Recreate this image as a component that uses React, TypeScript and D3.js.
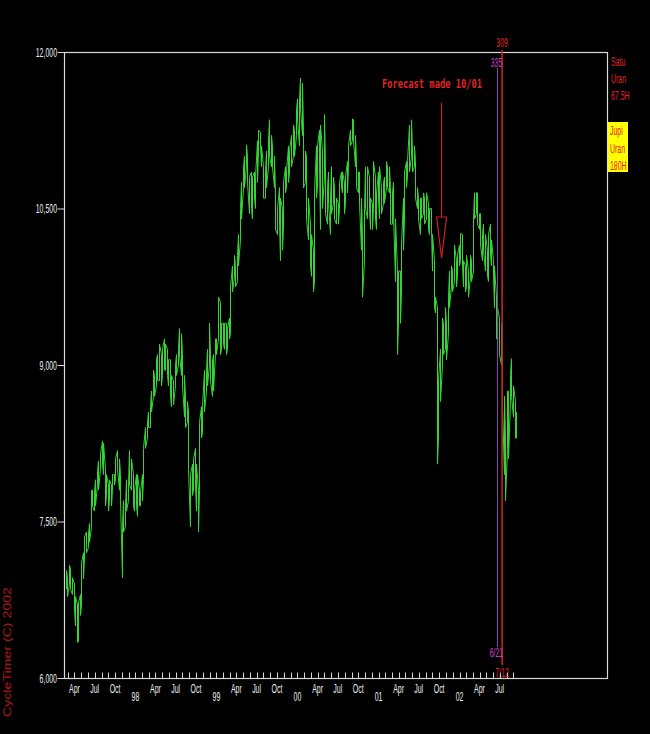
import React from "react";
import * as d3 from "d3";

// Weekly bars (Friday week-ends) starting 21 Feb 1997
const START_WEEK = new Date(1997, 1, 21);

const weekHigh = [
  // 1997
  7030, 6960, 7080, 7050, 6960, 6900, 6780, 6700, 6720, 6800, 7100, 7200, 7350, 7400, 7380,
  7480, 7800, 7800, 7780, 7900, 7980, 8080, 8150, 8270, 8250, 8000, 7950, 7850, 7900, 7850,
  7950, 7950, 8100, 8180, 8100, 7950, 7450, 7700, 7650, 7900, 7850, 8180, 8100, 7950, 7800,
  // 1998
  7950, 7950, 7800, 7780, 7950, 8200, 8400, 8450, 8550, 8600, 8750, 8950, 8900, 9050, 9100,
  9200, 9100, 9150, 9250, 9200, 9150, 9050, 9050, 8900, 8850, 9000, 9100, 9150, 9350, 9300,
  9100, 8900, 8700, 8650, 8550, 7950, 8050, 8100, 8200, 8050, 7800, 8450, 8600, 8600, 8950,
  8950, 9150, 9400, 9100, 9050, 9100, 9250,
  // 1999
  9250, 9650, 9600, 9400, 9400, 9400, 9400, 9350, 9450, 9750, 9950, 10050, 9950, 10050, 10250,
  10500, 10750, 10900, 11000, 11110, 11000, 10800, 10850, 10800, 10850, 10800, 11150, 11250, 11230, 11100,
  10900, 10850, 11050, 11150, 11350, 11200, 11100, 11000, 10650, 10500, 10700, 10600, 10500, 10750, 10900,
  10850, 11100, 11050, 11200, 11300, 11250, 11450, 11550,
  // 2000
  11550, 11750, 11700, 11250, 11050, 11000, 10600, 10350, 10250, 10100, 10650, 11100, 11100, 11250, 11300,
  11050, 11400, 10900, 10700, 10850, 10600, 10900, 10800, 10700, 10600, 10550, 10750, 10850, 10850, 10750,
  10800, 10950, 11100, 11250, 11360, 11350, 11200, 10950, 10850, 10850, 10600, 10250, 10500, 10900, 10900,
  10800, 10600, 10550, 10950, 10800, 10650, 10850,
  // 2001
  10900, 10700, 10750, 10800, 10950, 10900, 10900, 10700, 10650, 10750, 10400, 9900, 9900, 9900, 10150,
  10600, 10850, 10950, 10950, 11300, 11350, 11050, 11100, 10950, 10700, 10600, 10600, 10600, 10650, 10600,
  10650, 10550, 10500, 10500, 10250, 10000, 9650, 9550, 8850, 9150, 9450, 9400, 9550, 9400, 9650,
  9900, 9950, 9900, 10150, 10000, 10050, 10150,
  // 2002
  10260, 10250, 10000, 9950, 10050, 9900, 10050, 10000, 10400, 10650, 10650, 10650, 10450, 10450, 10250,
  10350, 10250, 10100, 10250, 10350, 10200, 10000, 9950, 9650, 9550, 9450, 9400, 9300, 8700, 8300,
  8750, 8750, 8900, 9060, 8800, 8650, 8550,
];

const weekLow = [
  // 1997
  6850, 6780, 6900, 6850, 6800, 6650, 6500, 6340, 6350, 6600, 6700, 6950, 7150, 7200, 7250,
  7300, 7450, 7650, 7600, 7650, 7850, 7800, 8000, 8050, 7950, 7650, 7750, 7600, 7700, 7650,
  7800, 7850, 7900, 8000, 7800, 7700, 6960, 7400, 7450, 7600, 7700, 7850, 7800, 7650, 7600,
  // 1998
  7650, 7550, 7650, 7650, 7700, 7900, 8200, 8300, 8400, 8400, 8550, 8700, 8700, 8800, 8850,
  8850, 8800, 8900, 8950, 8950, 8900, 8800, 8700, 8600, 8620, 8800, 8900, 9000, 9100, 8900,
  8800, 8500, 8400, 8450, 8000, 7450, 7750, 7800, 7850, 7600, 7400, 7800, 8300, 8350, 8550,
  8750, 8800, 9000, 8850, 8700, 8750, 9100,
  // 1999
  9100, 9250, 9100, 9150, 9200, 9150, 9100, 9150, 9250, 9300, 9700, 9850, 9750, 9800, 9950,
  10200, 10400, 10700, 10700, 10900, 10750, 10450, 10500, 10400, 10600, 10500, 10750, 11050, 11100, 10900,
  10600, 10600, 10700, 10900, 11000, 10900, 10900, 10700, 10300, 10250, 10350, 10000, 10100, 10300, 10650,
  10700, 10750, 10850, 10900, 11000, 11000, 11200, 11350,
  // 2000
  11100, 11450, 11200, 10700, 10750, 10400, 10200, 9950, 9850, 9700, 9800, 10600, 10700, 10900, 10300,
  10500, 10800, 10450, 10350, 10550, 10250, 10450, 10550, 10400, 10350, 10350, 10500, 10700, 10650, 10450,
  10550, 10650, 10900, 11100, 11150, 11150, 10900, 10700, 10650, 10550, 10100, 9650, 10000, 10500, 10400,
  10500, 10300, 10300, 10500, 10400, 10300, 10600,
  // 2001
  10400, 10450, 10550, 10550, 10700, 10700, 10650, 10350, 10350, 10450, 9800, 9100, 9400, 9400, 9700,
  10100, 10400, 10700, 10800, 10850, 11000, 10850, 10900, 10600, 10500, 10400, 10250, 10400, 10450, 10350,
  10400, 10300, 10250, 10300, 9900, 9550, 9500, 8050, 8300, 8650, 9000, 9100, 9150, 9050, 9300,
  9550, 9750, 9700, 9800, 9750, 9850, 9950,
  // 2002
  10000, 9950, 9750, 9700, 9750, 9650, 9850, 9800, 9900, 10400, 10450, 10350, 10300, 10150, 10000,
  10100, 9900, 9850, 9800, 10050, 9950, 9850, 9550, 9250, 9250, 9100, 9000, 8600, 7950, 7700,
  8200, 8100, 8650, 8700, 8500, 8300, 8300,
];

const yTickValues = [6000, 7500, 9000, 10500, 12000];
const quarterMonthNames = ["Apr", "Jul", "Oct"];
const quarterYears = [1997, 1998, 1999, 2000, 2001, 2002];
const yearLabels = ["98", "99", "00", "01", "02"];
const yearLabelYears = [1998, 1999, 2000, 2001, 2002];
const rightLabels = ["Satu", "Uran", "67.5H"];
const boxLabels = ["Jupi", "Uran", "180H"];
const forecastText = "Forecast made 10/01";
const forecastDate = new Date(2001, 9, 12);
const markerRed = { date: new Date(2002, 6, 12), top: "309", bottom: "7/12" };
const markerPurple = { date: new Date(2002, 5, 21), top: "335", bottom: "6/21" };

const W = 650;
const H = 734;
const LEFT = 64;
const RIGHT = 607;
const TOP = 52;
const BOTTOM = 678;

const NARROW = "'Liberation Sans', Arial, sans-serif";

function NText(props: {
  x: number;
  y: number;
  sx?: number;
  anchor?: string;
  fill?: string;
  size?: number;
  children: React.ReactNode;
}) {
  const { x, y, sx = 0.58, anchor = "middle", fill = "#ececec", size = 12, children } = props;
  return (
    <text
      transform={`translate(${x},${y}) scale(${sx},1)`}
      textAnchor={anchor as any}
      fill={fill}
      fontSize={size}
      fontFamily={NARROW}
    >
      {children}
    </text>
  );
}

export default function App() {
  const x = d3
    .scaleTime()
    .domain([new Date(1997, 0, 1), new Date(2003, 0, 1)])
    .range([54.5, 540.5]);
  const y = d3.scaleLinear().domain([6000, 12000]).range([BOTTOM, TOP]);

  const dates = weekHigh.map((_, i) => d3.timeDay.offset(START_WEEK, 7 * i));

  // zig-zag path through the weekly ranges
  const pts: [number, number][] = [];
  dates.forEach((d, i) => {
    const xi = Math.round(x(d)) + 0.5;
    const a = y(weekLow[i]);
    const b = y(weekHigh[i]);
    if (i % 2 === 0) {
      pts.push([xi, a], [xi, b]);
    } else {
      pts.push([xi, b], [xi, a]);
    }
  });
  const path = d3.line()(pts) || "";

  const monthTicks = d3.timeMonth.range(new Date(1997, 2, 1), new Date(2002, 8, 2));

  const quarterLabels: { d: Date; label: string }[] = [];
  quarterYears.forEach((yr) => {
    quarterMonthNames.forEach((m, k) => {
      const d = new Date(yr, 3 + 3 * k, 1);
      if (d <= new Date(2002, 6, 1)) quarterLabels.push({ d, label: m });
    });
  });

  const fx = x(forecastDate);
  const redX = x(markerRed.date);
  const purX = x(markerPurple.date);

  return (
    <svg
      width={W}
      height={H}
      style={{ position: "absolute", left: 0, top: 0, display: "block" }}
    >
      <rect x={0} y={0} width={W} height={H} fill="#000" />

      {/* frame */}
      <rect
        x={LEFT + 0.5}
        y={TOP + 0.5}
        width={RIGHT - LEFT}
        height={BOTTOM - TOP}
        fill="none"
        stroke="#d8d8d8"
        strokeWidth={1.2}
      />

      {/* y ticks and labels */}
      {yTickValues.map((v) => (
        <g key={v}>
          <line x1={57.5} x2={LEFT} y1={y(v) + 0.5} y2={y(v) + 0.5} stroke="#d8d8d8" />
          <NText x={57} y={y(v) + 4.5} anchor="end">
            {d3.format(",")(v)}
          </NText>
        </g>
      ))}

      {/* x month ticks */}
      {monthTicks.map((d, i) => (
        <line
          key={i}
          x1={Math.round(x(d)) + 0.5}
          x2={Math.round(x(d)) + 0.5}
          y1={BOTTOM}
          y2={BOTTOM - 5.5}
          stroke="#d8d8d8"
        />
      ))}
      {quarterLabels.map((q, i) => (
        <NText key={i} x={x(q.d)} y={693}>
          {q.label}
        </NText>
      ))}
      {yearLabels.map((lab, i) => (
        <NText key={lab} x={x(new Date(yearLabelYears[i], 0, 1))} y={701}>
          {lab}
        </NText>
      ))}

      {/* price bars */}
      <path d={path} fill="none" stroke="#33d433" strokeWidth={1} />

      {/* forecast arrow */}
      <text
        x={382}
        y={88}
        fill="#e02424"
        fontSize={13}
        fontWeight="bold"
        fontFamily="'DejaVu Sans Mono', monospace"
        textLength={100}
        lengthAdjust="spacingAndGlyphs"
      >
        {forecastText}
      </text>
      <line x1={fx} x2={fx} y1={103} y2={217} stroke="#cc2020" strokeWidth={1.2} />
      <path
        d={`M${fx - 5},217 L${fx + 5},217 L${fx},258 Z`}
        fill="none"
        stroke="#cc2020"
        strokeWidth={1.2}
      />

      {/* vertical markers */}
      <line x1={purX} x2={purX} y1={68} y2={647} stroke="#8a4aa8" strokeWidth={1} />
      <line x1={redX} x2={redX} y1={50} y2={665} stroke="#c82222" strokeWidth={1.6} />
      <NText x={redX} y={47} fill="#e02424">
        {markerRed.top}
      </NText>
      <NText x={redX} y={677} fill="#e02424">
        {markerRed.bottom}
      </NText>
      <NText x={purX - 1} y={67} fill="#d040d0">
        {markerPurple.top}
      </NText>
      <NText x={purX - 1} y={657} fill="#d040d0">
        {markerPurple.bottom}
      </NText>

      {/* right side labels */}
      {rightLabels.map((t, i) => (
        <NText key={t} x={611} y={66 + i * 17} anchor="start" fill="#e02424">
          {t}
        </NText>
      ))}
      <rect x={608} y={122} width={20} height={50} fill="#ffff00" />
      {boxLabels.map((t, i) => (
        <NText key={t + i} x={610} y={135 + i * 17.5} anchor="start" fill="#e02424">
          {t}
        </NText>
      ))}

      {/* copyright */}
      <text
        transform="translate(10.5,717) rotate(-90)"
        fill="#b01818"
        fontSize={10.5}
        fontFamily={NARROW}
        textLength={130}
        lengthAdjust="spacingAndGlyphs"
      >
        CycleTimer (C) 2002
      </text>
    </svg>
  );
}
